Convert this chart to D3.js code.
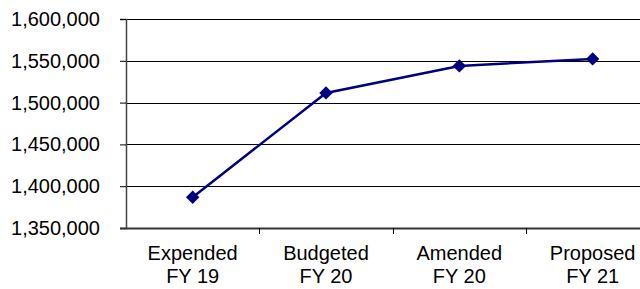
<!DOCTYPE html>
<html>
<head>
<meta charset="utf-8">
<script src="https://cdn.jsdelivr.net/npm/d3@7"></script>
<style>
  html, body { margin: 0; padding: 0; background: #fff; }
  svg { display: block; }
  text { font-family: "Liberation Sans", Arial, sans-serif; }
</style>
</head>
<body>
<svg id="chart" width="640" height="289"></svg>
<script>
const categories = [["Expended", "FY 19"], ["Budgeted", "FY 20"], ["Amended", "FY 20"], ["Proposed", "FY 21"]];
const values = [1386800, 1511600, 1543900, 1552300];
const yTicks = [1350000, 1400000, 1450000, 1500000, 1550000, 1600000];

(function () {
const svg = d3.select("#chart");
const W = 640, H = 289;
const pLeft = 126, pRight = 659.3, pTop = 19, pBottom = 228;
const fs = 20;

const x = d3.scaleBand().domain(categories.map((c, i) => i)).range([pLeft, pRight]).paddingInner(0).paddingOuter(0);
const y = d3.scaleLinear().domain([1350000, 1600000]).range([pBottom, pTop]);

svg.append("rect").attr("width", W).attr("height", H).attr("fill", "#fff");

// gridlines
svg.append("g").selectAll("line").data(yTicks.slice(1)).join("line")
  .attr("x1", pLeft).attr("x2", W)
  .attr("y1", d => Math.round(y(d)) + 0.5).attr("y2", d => Math.round(y(d)) + 0.5)
  .attr("stroke", "#000").attr("stroke-width", 1);

// y axis
const yAxis = svg.append("g").attr("transform", `translate(${pLeft},0)`)
  .call(d3.axisLeft(y).tickValues(yTicks).tickFormat(d3.format(",")).tickSize(6).tickPadding(20));
yAxis.select(".domain").attr("stroke", "#444").attr("stroke-width", 1.5);
yAxis.selectAll(".tick line").attr("stroke", "#000");
yAxis.selectAll(".tick text").attr("font-size", fs).attr("fill", "#000")
  .style("font-family", '"Liberation Sans", Arial, sans-serif');

// x axis line
svg.append("line").attr("x1", pLeft - 6).attr("x2", W)
  .attr("y1", pBottom + 0.5).attr("y2", pBottom + 0.5)
  .attr("stroke", "#333").attr("stroke-width", 2);

// x ticks at band boundaries
const bounds = categories.map((c, i) => x(i)).slice(1);
svg.append("g").selectAll("line").data(bounds).join("line")
  .attr("x1", d => Math.round(d) + 0.5).attr("x2", d => Math.round(d) + 0.5)
  .attr("y1", pBottom).attr("y2", pBottom + 6)
  .attr("stroke", "#000");

// x labels
const lab = svg.append("g").selectAll("text").data(categories).join("text")
  .attr("x", (d, i) => x(i) + x.bandwidth() / 2)
  .attr("y", 259.5)
  .attr("text-anchor", "middle")
  .attr("font-size", fs)
  .attr("fill", "#000");
lab.append("tspan").attr("x", (d, i) => x(i) + x.bandwidth() / 2).text(d => d[0]);
lab.append("tspan").attr("x", (d, i) => x(i) + x.bandwidth() / 2).attr("dy", 23.5).text(d => d[1]);

// line
const line = d3.line().x((d, i) => x(i) + x.bandwidth() / 2).y(d => y(d));
svg.append("path").datum(values).attr("d", line)
  .attr("fill", "none").attr("stroke", "#000080").attr("stroke-width", 2.5);

// markers
svg.append("g").selectAll("path").data(values).join("path")
  .attr("d", d3.symbol().type(d3.symbolSquare).size(90))
  .attr("transform", (d, i) => `translate(${x(i) + x.bandwidth() / 2},${y(d)}) rotate(45)`)
  .attr("fill", "#000080");
})();
</script>
</body>
</html>
